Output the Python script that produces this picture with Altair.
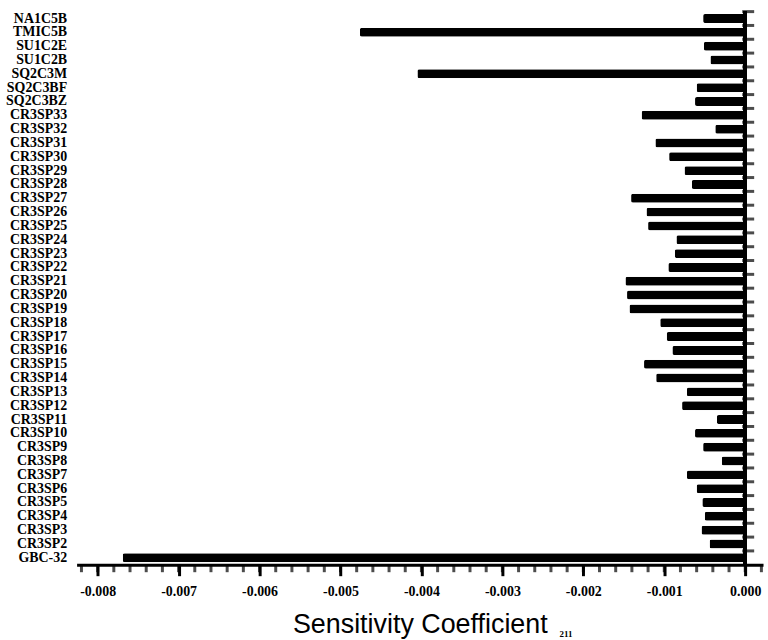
import altair as alt
import pandas as pd

# Sensitivity coefficients per parameter, listed top to bottom
params = [
    "NA1C5B", "TMIC5B", "SU1C2E", "SU1C2B", "SQ2C3M", "SQ2C3BF", "SQ2C3BZ",
    "CR3SP33", "CR3SP32", "CR3SP31", "CR3SP30", "CR3SP29", "CR3SP28",
    "CR3SP27", "CR3SP26", "CR3SP25", "CR3SP24", "CR3SP23", "CR3SP22",
    "CR3SP21", "CR3SP20", "CR3SP19", "CR3SP18", "CR3SP17", "CR3SP16",
    "CR3SP15", "CR3SP14", "CR3SP13", "CR3SP12", "CR3SP11", "CR3SP10",
    "CR3SP9", "CR3SP8", "CR3SP7", "CR3SP6", "CR3SP5", "CR3SP4", "CR3SP3",
    "CR3SP2", "GBC-32",
]
coefficients = [
    -0.00052, -0.00476, -0.00051, -0.00043, -0.00405, -0.00060, -0.00062,
    -0.00128, -0.00037, -0.00111, -0.00094, -0.00075, -0.00066,
    -0.00141, -0.00122, -0.00120, -0.00085, -0.00087, -0.00095,
    -0.00148, -0.00146, -0.00143, -0.00105, -0.00097, -0.00090,
    -0.00125, -0.00110, -0.00072, -0.00078, -0.00035, -0.00062,
    -0.00052, -0.00029, -0.00072, -0.00060, -0.00053, -0.00050, -0.00054,
    -0.00044, -0.00769,
]
major_ticks = [-0.008, -0.007, -0.006, -0.005, -0.004, -0.003, -0.002, -0.001, 0.0]
minor_ticks = [round(-0.0082 + 0.0002 * i, 4) for i in range(43)]
page_number = ["211"]

df = pd.DataFrame({"param": params, "coef": coefficients})
minor_df = pd.DataFrame({"tick": minor_ticks})

serif = "Liberation Serif"
hyphen_fmt = "replace(format(datum.value, '.3f'), '\u2212', '-')"

x_scale = alt.Scale(domain=[-0.00826, 0.00022], nice=False, zero=False)
y_scale = alt.Scale(domain=params, paddingInner=0, paddingOuter=0)

bars = alt.Chart(df).mark_bar(color="black", size=9, cornerRadius=2).encode(
    x=alt.X(
        "coef:Q",
        scale=x_scale,
        axis=alt.Axis(
            orient="bottom",
            values=major_ticks,
            labelExpr=hyphen_fmt,
            labelFont=serif,
            labelFontSize=14,
            labelFontWeight="bold",
            labelColor="black",
            labelPadding=9,
            ticks=True,
            tickSize=11,
            tickWidth=3,
            tickColor="black",
            domain=True,
            domainWidth=3,
            domainColor="black",
            grid=False,
            title="Sensitivity Coefficient",
            titleFont="Liberation Sans",
            titleFontSize=27,
            titleFontWeight="normal",
            titleColor="black",
            titlePadding=13,
        ),
    ),
    y=alt.Y(
        "param:N",
        sort=params,
        scale=y_scale,
        axis=alt.Axis(
            orient="left",
            domain=False,
            ticks=False,
            labelFont=serif,
            labelFontSize=14,
            labelFontWeight="bold",
            labelColor="black",
            labelPadding=10,
            labelLimit=200,
            minExtent=70,
            maxExtent=70,
            title=None,
        ),
    ),
)

# Vertical zero line running the full height of the plot
zero_line = alt.Chart(df).mark_rule(color="black", strokeWidth=3).encode(
    x=alt.datum(0.0)
)

# Short separators on the zero line between neighbouring categories
separators = alt.Chart(df).mark_tick(
    orient="horizontal", size=12, thickness=3, color="black", xOffset=3
).encode(
    x=alt.datum(0.0),
    y=alt.Y("param:N", sort=params, bandPosition=0),
)

# Minor ticks below the x axis line
minor = alt.Chart(minor_df).mark_tick(
    orient="vertical", size=7, thickness=3, color="black"
).encode(
    x=alt.X("tick:Q"),
    y=alt.value({"expr": "height + 4"}),
)

page = alt.Chart(pd.DataFrame({"t": page_number})).mark_text(
    font=serif, fontSize=9, fontWeight="bold", baseline="top", align="center",
    color="black",
).encode(text="t:N", x=alt.value(492), y=alt.value(622))

chart = (
    alt.layer(bars, zero_line, separators, minor, page)
    .properties(
        width=690,
        height=556,
        padding={"left": 5, "top": 8, "right": 5, "bottom": 5},
        background="white",
    )
    .configure_view(strokeWidth=0)
)

chart.save("out.html", embed_options={"renderer": "svg", "actions": False})
